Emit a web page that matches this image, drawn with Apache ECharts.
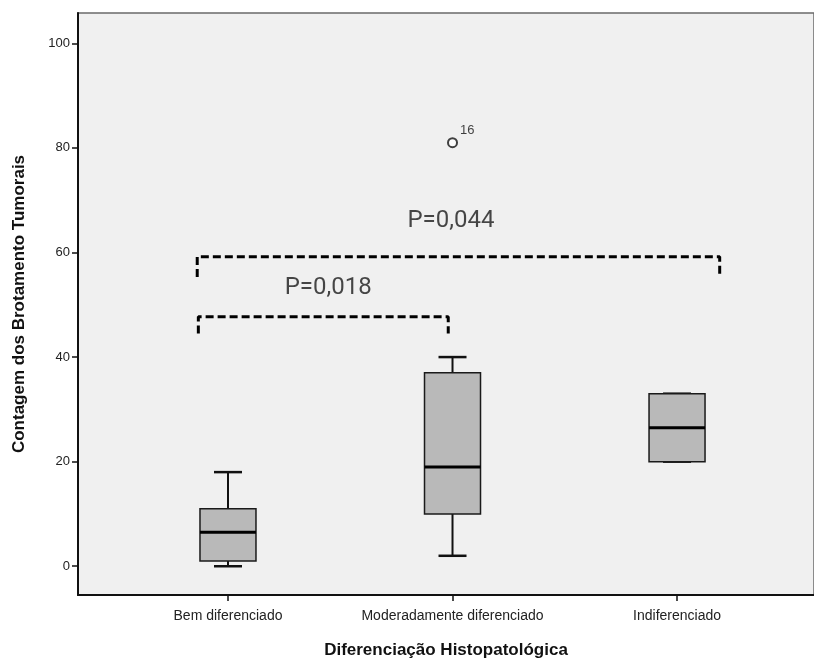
<!DOCTYPE html>
<html><head><meta charset="utf-8">
<script src="https://cdn.jsdelivr.net/npm/echarts@6/dist/echarts.min.js"></script>
<style>html,body{margin:0;padding:0;background:#fff}#c{width:814px;height:664px}</style>
</head><body><div id="c"></div>
<script>
const categories = ['Bem diferenciado', 'Moderadamente diferenciado', 'Indiferenciado'];
const boxMin = [0, 2, 20];
const boxQ1 = [1, 10, 20];
const boxMedian = [6.5, 19, 26.5];
const boxQ3 = [11, 37, 33];
const boxMax = [18, 40, 33];
const outlierCat = [2];
const outlierVal = [81];
const outlierLabel = ['16'];
const yTicks = [0, 20, 40, 60, 80, 100];
const bracketWideX = [0.863, 0.863, 3.19, 3.19];
const bracketWideY = [55.3, 59.2, 59.2, 55.3];
const bracketNarrowX = [0.868, 0.868, 1.981, 1.981];
const bracketNarrowY = [44.5, 47.7, 47.7, 44.5];
const pLabels = ['P=0,044', 'P=0,018'];
const pLabelX = [1.993, 1.446];
const pLabelY = [66.0, 53.3];

const xTicks = categories.map((c, i) => i + 1);
const boxData = categories.map((c, i) => [i + 1, boxMin[i], boxQ1[i], boxMedian[i], boxQ3[i], boxMax[i]]);

const chart = echarts.init(document.getElementById('c'));
const BOX_W = 56, CAP_W = 28;
chart.setOption({
  animation: false,
  backgroundColor: '#ffffff',
  grid: { left: 78, right: 0, top: 13, bottom: 62, show: true, backgroundColor: '#f0f0f0', borderColor: '#6a6a6a', borderWidth: 1.5 },
  xAxis: {
    type: 'value', min: 0.332, max: 3.61,
    name: 'Diferenciação Histopatológica', nameLocation: 'middle', nameGap: 47,
    nameTextStyle: { fontFamily: 'Liberation Sans', fontWeight: 'bold', fontSize: 17, color: '#111' },
    axisLine: { show: true, onZero: false, lineStyle: { color: '#111', width: 2 } },
    axisTick: { show: true, customValues: xTicks, length: 6, lineStyle: { color: '#111', width: 1.5 } },
    axisLabel: { customValues: xTicks, formatter: v => categories[Math.round(v) - 1] || '', fontFamily: 'Liberation Sans', fontSize: 14, color: '#222', margin: 14 },
    splitLine: { show: false }
  },
  yAxis: {
    type: 'value', min: -5.5, max: 105.8,
    name: 'Contagem dos Brotamento Tumorais', nameLocation: 'middle', nameGap: 50,
    nameTextStyle: { fontFamily: 'Liberation Sans', fontWeight: 'bold', fontSize: 17, color: '#111' },
    axisLine: { show: true, onZero: false, lineStyle: { color: '#111', width: 2 } },
    axisTick: { show: true, customValues: yTicks, length: 6, lineStyle: { color: '#111', width: 1.5 } },
    axisLabel: { customValues: yTicks, fontFamily: 'Liberation Sans', fontSize: 13, color: '#222', margin: 8 },
    splitLine: { show: false }
  },
  series: [
    {
      type: 'custom',
      data: boxData,
      renderItem: function (params, api) {
        const x = api.value(0);
        const pMin = api.coord([x, api.value(1)]);
        const pQ1 = api.coord([x, api.value(2)]);
        const pMed = api.coord([x, api.value(3)]);
        const pQ3 = api.coord([x, api.value(4)]);
        const pMax = api.coord([x, api.value(5)]);
        const cx = pMed[0];
        const ls = { stroke: '#111', lineWidth: 2 };
        return {
          type: 'group',
          children: [
            { type: 'line', shape: { x1: cx, y1: pQ3[1], x2: cx, y2: pMax[1] }, style: ls },
            { type: 'line', shape: { x1: cx, y1: pQ1[1], x2: cx, y2: pMin[1] }, style: ls },
            { type: 'line', shape: { x1: cx - CAP_W / 2, y1: pMax[1], x2: cx + CAP_W / 2, y2: pMax[1] }, style: { stroke: '#111', lineWidth: 2.5 } },
            { type: 'line', shape: { x1: cx - CAP_W / 2, y1: pMin[1], x2: cx + CAP_W / 2, y2: pMin[1] }, style: { stroke: '#111', lineWidth: 2.5 } },
            { type: 'rect', shape: { x: cx - BOX_W / 2, y: pQ3[1], width: BOX_W, height: pQ1[1] - pQ3[1] }, style: { fill: '#b9b9b9', stroke: '#1a1a1a', lineWidth: 1.5 } },
            { type: 'line', shape: { x1: cx - BOX_W / 2, y1: pMed[1], x2: cx + BOX_W / 2, y2: pMed[1] }, style: { stroke: '#000', lineWidth: 3 } }
          ]
        };
      },
      z: 3
    },
    {
      type: 'scatter',
      data: outlierCat.map((c, i) => ({ value: [c, outlierVal[i]], label: { show: true, formatter: outlierLabel[i] } })),
      symbol: 'emptyCircle', symbolSize: 9,
      itemStyle: { color: '#111', borderColor: '#111', borderWidth: 1.5 },
      label: { position: [13, -13], fontFamily: 'Liberation Sans', fontSize: 13, color: '#111' },
      z: 4
    },
    {
      type: 'line', data: bracketWideX.map((x, i) => [x, bracketWideY[i]]),
      symbol: 'none', lineStyle: { color: '#000', width: 3, type: [8, 4] }, z: 5
    },
    {
      type: 'line', data: bracketNarrowX.map((x, i) => [x, bracketNarrowY[i]]),
      symbol: 'none', lineStyle: { color: '#000', width: 3, type: [8, 4] }, z: 5
    },
    {
      type: 'scatter', symbolSize: 0,
      data: pLabels.map((t, i) => ({ value: [pLabelX[i], pLabelY[i]], label: { show: true, formatter: t } })),
      label: { position: 'inside', fontFamily: 'Roboto', fontSize: 24, color: '#1a1a1a' },
      z: 6
    }
  ]
});
</script></body></html>
